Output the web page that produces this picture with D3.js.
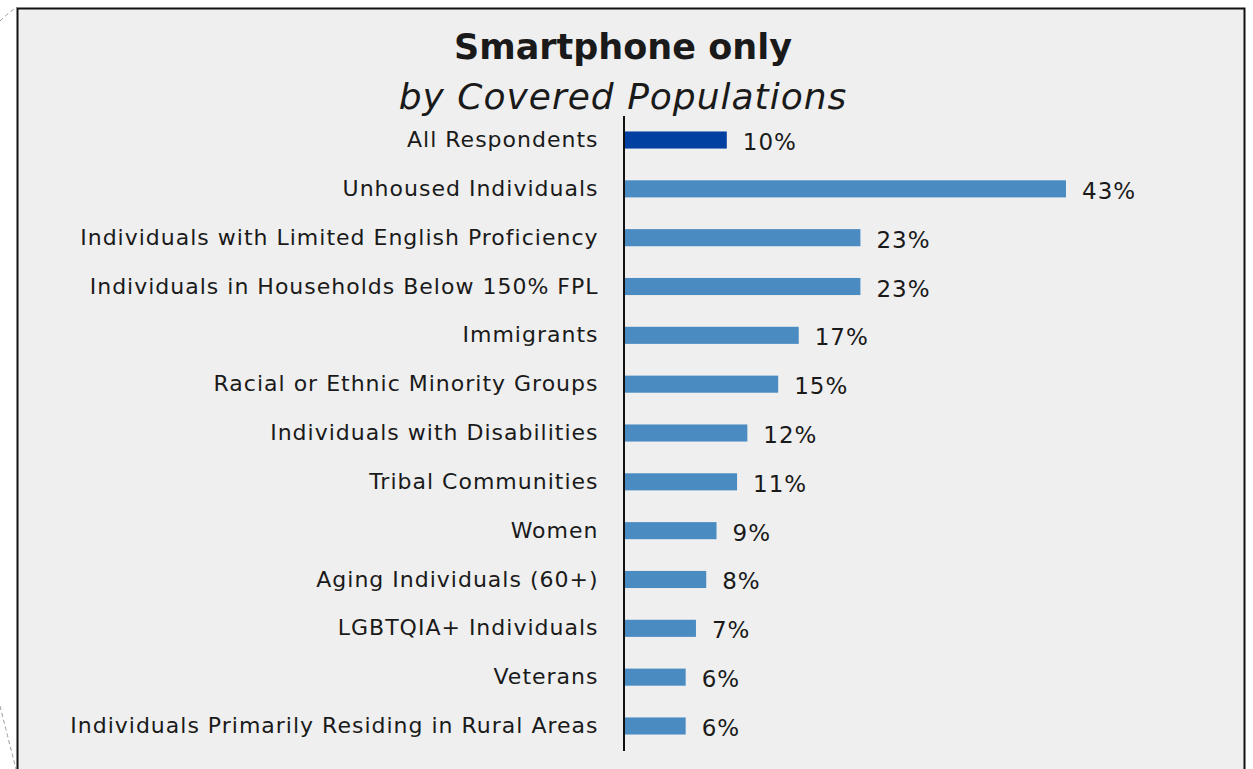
<!DOCTYPE html>
<html>
<head>
<meta charset="utf-8">
<script src="https://cdn.jsdelivr.net/npm/d3@7"></script>
<style>
  html, body { margin: 0; padding: 0; background: #ffffff; }
  svg { display: block; }
  text { font-family: "DejaVu Sans", "Open Sans", sans-serif; fill: #1a1a1a; }
</style>
</head>
<body>
<script>
// Share of each population that reaches the internet by smartphone only
const categories = [
  "All Respondents",
  "Unhoused Individuals",
  "Individuals with Limited English Proficiency",
  "Individuals in Households Below 150% FPL",
  "Immigrants",
  "Racial or Ethnic Minority Groups",
  "Individuals with Disabilities",
  "Tribal Communities",
  "Women",
  "Aging Individuals (60+)",
  "LGBTQIA+ Individuals",
  "Veterans",
  "Individuals Primarily Residing in Rural Areas"
];
const values = [10, 43, 23, 23, 17, 15, 12, 11, 9, 8, 7, 6, 6];
const valueLabels = ["10%", "43%", "23%", "23%", "17%", "15%", "12%", "11%", "9%", "8%", "7%", "6%", "6%"];
const titleText = "Smartphone only";
const subtitleText = "by Covered Populations";

const W = 1253, H = 769;
const svg = d3.select("body").append("svg").attr("width", W).attr("height", H);

// decorative dashed arcs peeking out at the left edge
svg.append("path")
  .attr("d", "M0,21 Q8,13 17,7")
  .attr("fill", "none").attr("stroke", "#9a9a9a").attr("stroke-width", 1)
  .attr("stroke-dasharray", "4,3");
svg.append("path")
  .attr("d", "M0,706 Q8,738 16,769")
  .attr("fill", "none").attr("stroke", "#9a9a9a").attr("stroke-width", 1)
  .attr("stroke-dasharray", "4,3");

// panel
svg.append("rect")
  .attr("x", 17.5).attr("y", 8.5)
  .attr("width", 1227).attr("height", 800)
  .attr("fill", "#efefef").attr("stroke", "#111").attr("stroke-width", 2);

const x0 = 624;
const x = d3.scaleLinear().domain([0, 43]).range([x0, 1066]);
const y = d3.scaleBand().domain(categories).range([115.6, 750.4]).paddingInner(0.65).paddingOuter(0.325);

// title
svg.append("text").attr("x", 623).attr("y", 59)
  .attr("text-anchor", "middle").attr("font-size", 35).attr("font-weight", "bold")
  .text(titleText);
svg.append("text").attr("x", 623).attr("y", 109)
  .attr("text-anchor", "middle").attr("font-size", 36).attr("font-style", "italic")
  .attr("letter-spacing", 1)
  .text(subtitleText);

// bars
svg.append("g").selectAll("rect").data(categories).join("rect")
  .attr("x", x(0))
  .attr("y", d => y(d))
  .attr("width", (d, i) => x(values[i]) - x(0))
  .attr("height", y.bandwidth())
  .attr("fill", (d, i) => i === 0 ? "#0040a1" : "#4a8cc2");

// value labels
svg.append("g").selectAll("text").data(categories).join("text")
  .attr("x", (d, i) => x(values[i]) + 16)
  .attr("y", d => y(d) + y.bandwidth() / 2 + 10)
  .attr("font-size", 23)
  .attr("letter-spacing", 1)
  .text((d, i) => valueLabels[i]);

// category axis
const axis = svg.append("g")
  .attr("transform", `translate(${x0 - 0.5},0)`)
  .call(d3.axisLeft(y).tickSize(0).tickPadding(25).tickSizeOuter(0));
axis.select(".domain").attr("stroke", "#111").attr("stroke-width", 2);
axis.selectAll(".tick text")
  .attr("font-size", 22)
  .attr("letter-spacing", 1)
  .attr("dy", "0.32em")
  .style("font-family", "\"DejaVu Sans\", sans-serif")
  .attr("fill", "#1a1a1a");
</script>
</body>
</html>
